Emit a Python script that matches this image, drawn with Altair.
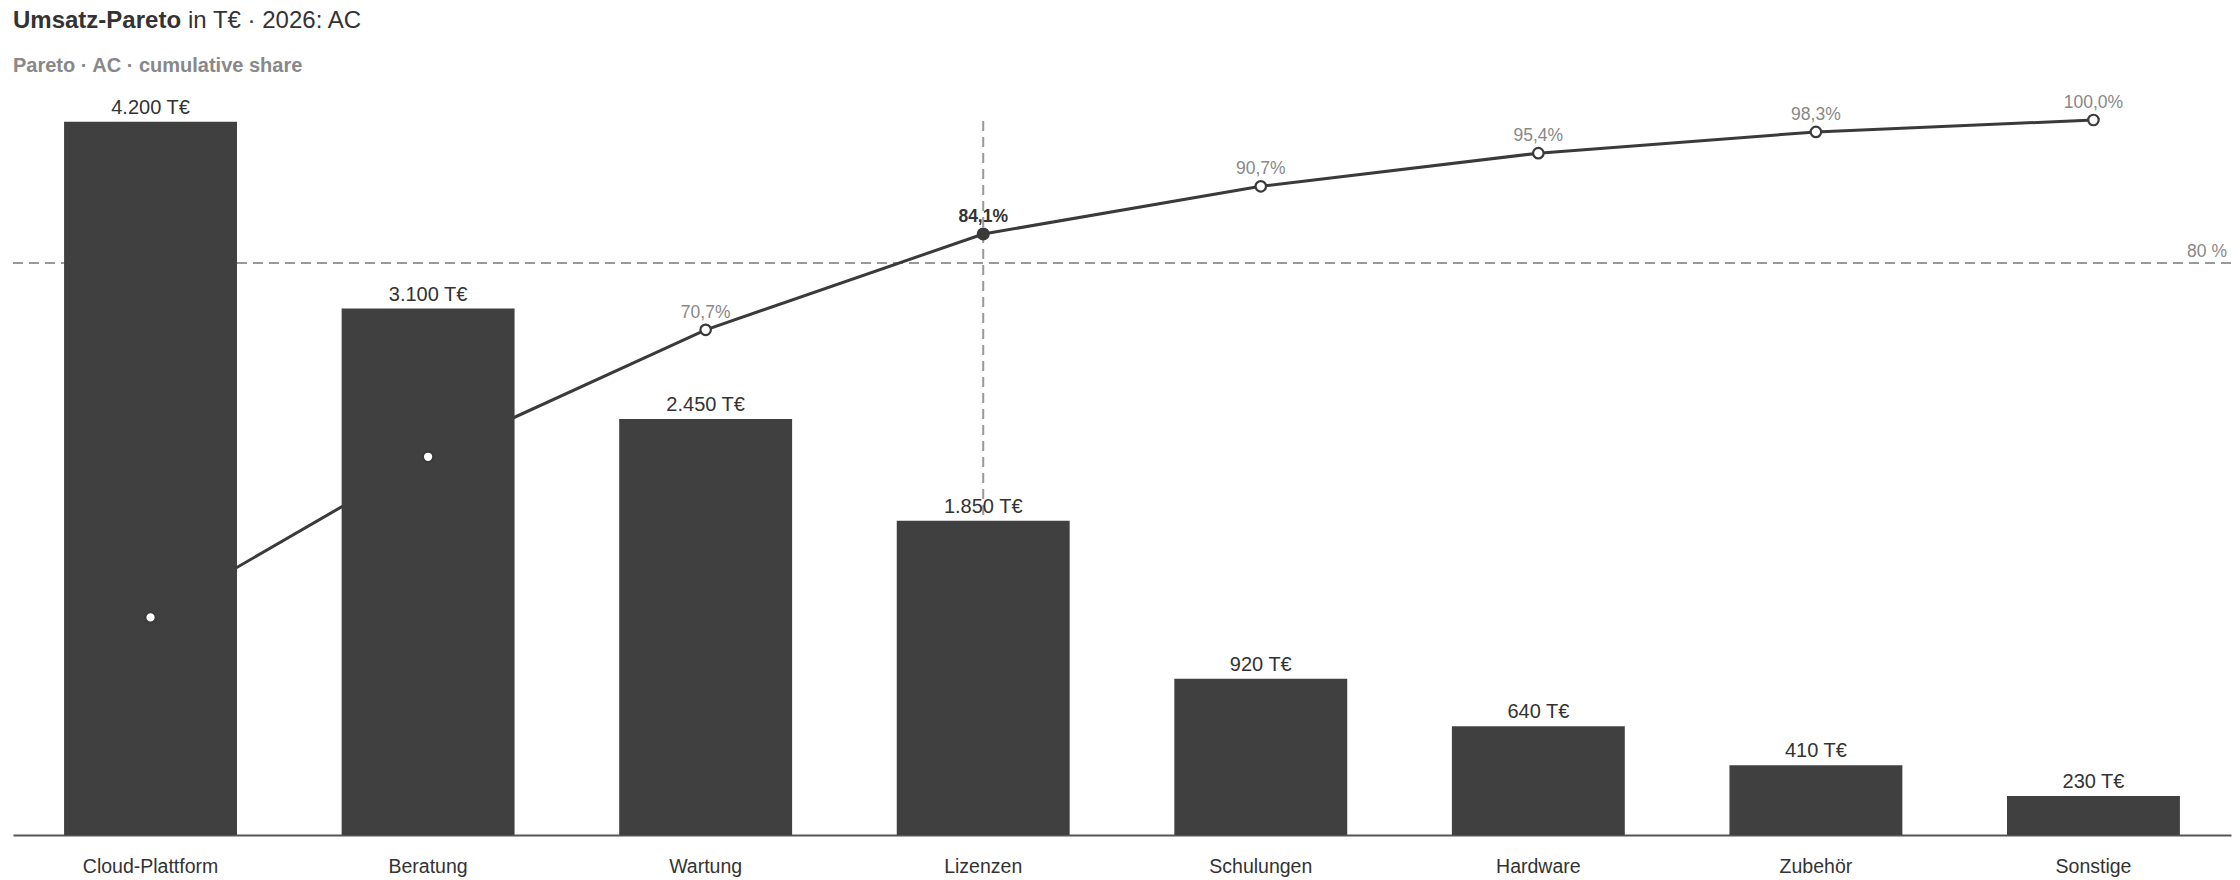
import altair as alt
import pandas as pd

categories = ["Cloud-Plattform", "Beratung", "Wartung", "Lizenzen",
              "Schulungen", "Hardware", "Zubehör", "Sonstige"]
values = [4200, 3100, 2450, 1850, 920, 640, 410, 230]
threshold = 80

title_bold = "Umsatz-Pareto"
title_rest = "in T€ · 2026: AC"
subtitle = "Pareto · AC · cumulative share"

FONT = "Liberation Sans"
W, H = 2218, 715

df = pd.DataFrame({"cat": categories, "value": values})
df["cum"] = df["value"].cumsum() / df["value"].sum() * 100
df["bar_label"] = df["value"].map(lambda v: f"{v:,}".replace(",", ".") + " T€")
df["cum_label"] = df["cum"].map(lambda v: f"{v:.1f}".replace(".", ",") + "%")
hl_idx = int((df["cum"] >= threshold).idxmax())
df["hl"] = [i == hl_idx for i in range(len(df))]
df["zero"] = 0
df["hundred"] = 100

x = alt.X("cat:N", sort=categories,
          scale=alt.Scale(paddingInner=0.377, paddingOuter=0.184),
          axis=alt.Axis(title=None, labelAngle=0, ticks=False, domainColor="#555",
                        domainWidth=2, labelFontSize=19.5, labelColor="#333",
                        labelPadding=22, labelFont=FONT, grid=False))
ybar = alt.Y("value:Q", scale=alt.Scale(domain=[0, 4210]), axis=None)
pscale = alt.Scale(domain=[0, 100])
ycum = alt.Y("cum:Q", scale=pscale, axis=None)

base = alt.Chart(df)

rule80 = alt.Chart(pd.DataFrame({"t": [threshold]})).mark_rule(
    color="#999", strokeWidth=2, strokeDash=[10, 6]
).encode(y=alt.Y("t:Q", scale=pscale, axis=None))

label80 = alt.Chart(pd.DataFrame({"t": [threshold], "txt": [f"{threshold} %"]})).mark_text(
    align="right", baseline="alphabetic", dy=-6, fontSize=17.5, color="#888", font=FONT
).encode(y=alt.Y("t:Q", scale=pscale, axis=None), x=alt.value(W - 4), text="txt:N")

vrule = base.transform_filter("datum.hl").mark_rule(
    color="#999", strokeWidth=2, strokeDash=[10, 6]
).encode(x=x, y=alt.Y("zero:Q", scale=pscale, axis=None), y2="hundred:Q")

line = base.mark_line(color="#3a3a3a", strokeWidth=3).encode(x=x, y=ycum)

cum_labels = base.transform_filter("!datum.hl").mark_text(
    baseline="alphabetic", dy=-12, fontSize=17.5, color="#888", font=FONT
).encode(x=x, y=ycum, text="cum_label:N")

hl_label = base.transform_filter("datum.hl").mark_text(
    baseline="alphabetic", dy=-12, fontSize=17.5, color="#333", fontWeight="bold", font=FONT
).encode(x=x, y=ycum, text="cum_label:N")

bars = base.mark_bar(color="#404040").encode(x=x, y=ybar)

bar_labels = base.mark_text(baseline="alphabetic", dy=-8, fontSize=20, color="#333",
                            font=FONT).encode(x=x, y=ybar, text="bar_label:N")

pts = base.transform_filter("!datum.hl").mark_circle(
    size=110, color="white", stroke="#3a3a3a", strokeWidth=2.2, opacity=1
).encode(x=x, y=ycum)

hl_pt = base.transform_filter("datum.hl").mark_circle(
    size=170, color="#3a3a3a", opacity=1
).encode(x=x, y=ycum)

t1 = alt.Chart(pd.DataFrame({"t": [title_bold]})).mark_text(
    align="left", baseline="alphabetic", fontSize=24, fontWeight="bold", color="#333", font=FONT
).encode(x=alt.value(0), y=alt.value(-92), text="t:N")

t2 = alt.Chart(pd.DataFrame({"t": [title_rest]})).mark_text(
    align="left", baseline="alphabetic", fontSize=24, color="#333", font=FONT
).encode(x=alt.value(175), y=alt.value(-92), text="t:N")

t3 = alt.Chart(pd.DataFrame({"t": [subtitle]})).mark_text(
    align="left", baseline="alphabetic", fontSize=20, fontWeight="bold", color="#888", font=FONT
).encode(x=alt.value(0), y=alt.value(-48), text="t:N")

chart = alt.layer(
    rule80, label80, vrule, line, cum_labels, hl_label, bars, bar_labels, pts, hl_pt, t1, t2, t3
).resolve_scale(y="independent").properties(
    width=W, height=H,
    autosize=alt.AutoSizeParams(type="none"),
    padding={"left": 5, "top": 112, "right": 1, "bottom": 44},
).configure(font=FONT).configure_view(strokeWidth=0, stroke="transparent")

chart.save("out.html", embed_options={"renderer": "svg", "actions": False})
